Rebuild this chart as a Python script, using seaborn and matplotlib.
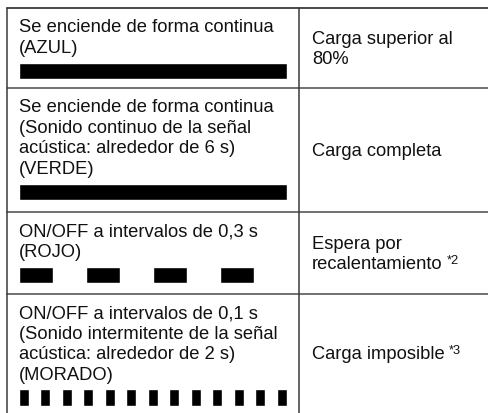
import matplotlib
matplotlib.use("Agg")
import matplotlib.pyplot as plt
import seaborn as sns

# Table content (indicator lamp -> charging status)
indicator_lines = [
    ["Se enciende de forma continua", "(AZUL)"],
    ["Se enciende de forma continua", "(Sonido continuo de la señal",
     "acústica: alrededor de 6 s)", "(VERDE)"],
    ["ON/OFF a intervalos de 0,3 s", "(ROJO)"],
    ["ON/OFF a intervalos de 0,1 s", "(Sonido intermitente de la señal",
     "acústica: alrededor de 2 s)", "(MORADO)"],
]
status_lines = [
    ["Carga superior al", "80%"],
    ["Carga completa"],
    ["Espera por", "recalentamiento"],
    ["Carga imposible"],
]
status_notes = ["", "", "*2", "*3"]

# lamp pattern: number of lit pulses, pulse period (fraction of bar), lit share
pulse_count = [1, 1, 4, 13]
pulse_period = [1.0, 1.0, 0.25, 0.0802]
pulse_duty = [1.0, 1.0, 0.5, 0.46]

# layout (pixels)
W, H = 488, 414
row_edges = [9, 89, 213, 295, 414]
x_left, x_div, x_right = 6.5, 299, 489
bar_x0, bar_x1, bar_h = 19, 287, 16.5
pitch, first_base = 20.5, 23.5
fs = 13.2
line_col = "#3a3a3a"
txt_col = "#111111"

sns.set_theme(style="white")
plt.rcParams["font.family"] = ["Liberation Sans", "DejaVu Sans"]

fig = plt.figure(figsize=(W / 100, H / 100), dpi=100)
ax = fig.add_axes([0, 0, 1, 1])
ax.set_xlim(0, W)
ax.set_ylim(H, 0)
ax.axis("off")

# grid lines
ax.plot([x_left, x_right], [row_edges[0]] * 2, color=line_col, lw=1.3)
for y in row_edges[1:-1]:
    ax.plot([x_left, x_right], [y, y], color="#4a4a4a", lw=1.1)
ax.plot([x_left, x_left], [row_edges[0], H + 2], color=line_col, lw=1.1)
ax.plot([x_div, x_div], [row_edges[0], H + 2], color=line_col, lw=1.1)

renderer = fig.canvas.get_renderer()
span = bar_x1 - bar_x0

for i, lines in enumerate(indicator_lines):
    top, bottom = row_edges[i], row_edges[i + 1]
    for j, s in enumerate(lines):
        ax.text(bar_x0, top + first_base + j * pitch, s, fontsize=fs,
                color=txt_col, va="baseline", ha="left")
    last_base = top + first_base + (len(lines) - 1) * pitch
    bar_top = last_base + 10.5
    p = pulse_period[i] * span
    segs = [(bar_x0 + k * p, p * pulse_duty[i]) for k in range(pulse_count[i])]
    ax.broken_barh(segs, (bar_top, bar_h), facecolors="black")

    # status column, centred vertically in the row
    st = status_lines[i]
    mid = (top + bottom) / 2
    base0 = mid - (len(st) - 1) * pitch / 2 + 4.8
    for j, s in enumerate(st):
        t = ax.text(312, base0 + j * pitch, s, fontsize=fs, color=txt_col,
                    va="baseline", ha="left")
    if status_notes[i]:
        bb = t.get_window_extent(renderer=renderer)
        x_end = ax.transData.inverted().transform((bb.x1, bb.y0))[0]
        ax.text(x_end + 4.5, base0 + (len(st) - 1) * pitch - 5, status_notes[i],
                fontsize=fs * 0.7, color=txt_col, va="baseline", ha="left")

fig.savefig("out.png", dpi=100)
